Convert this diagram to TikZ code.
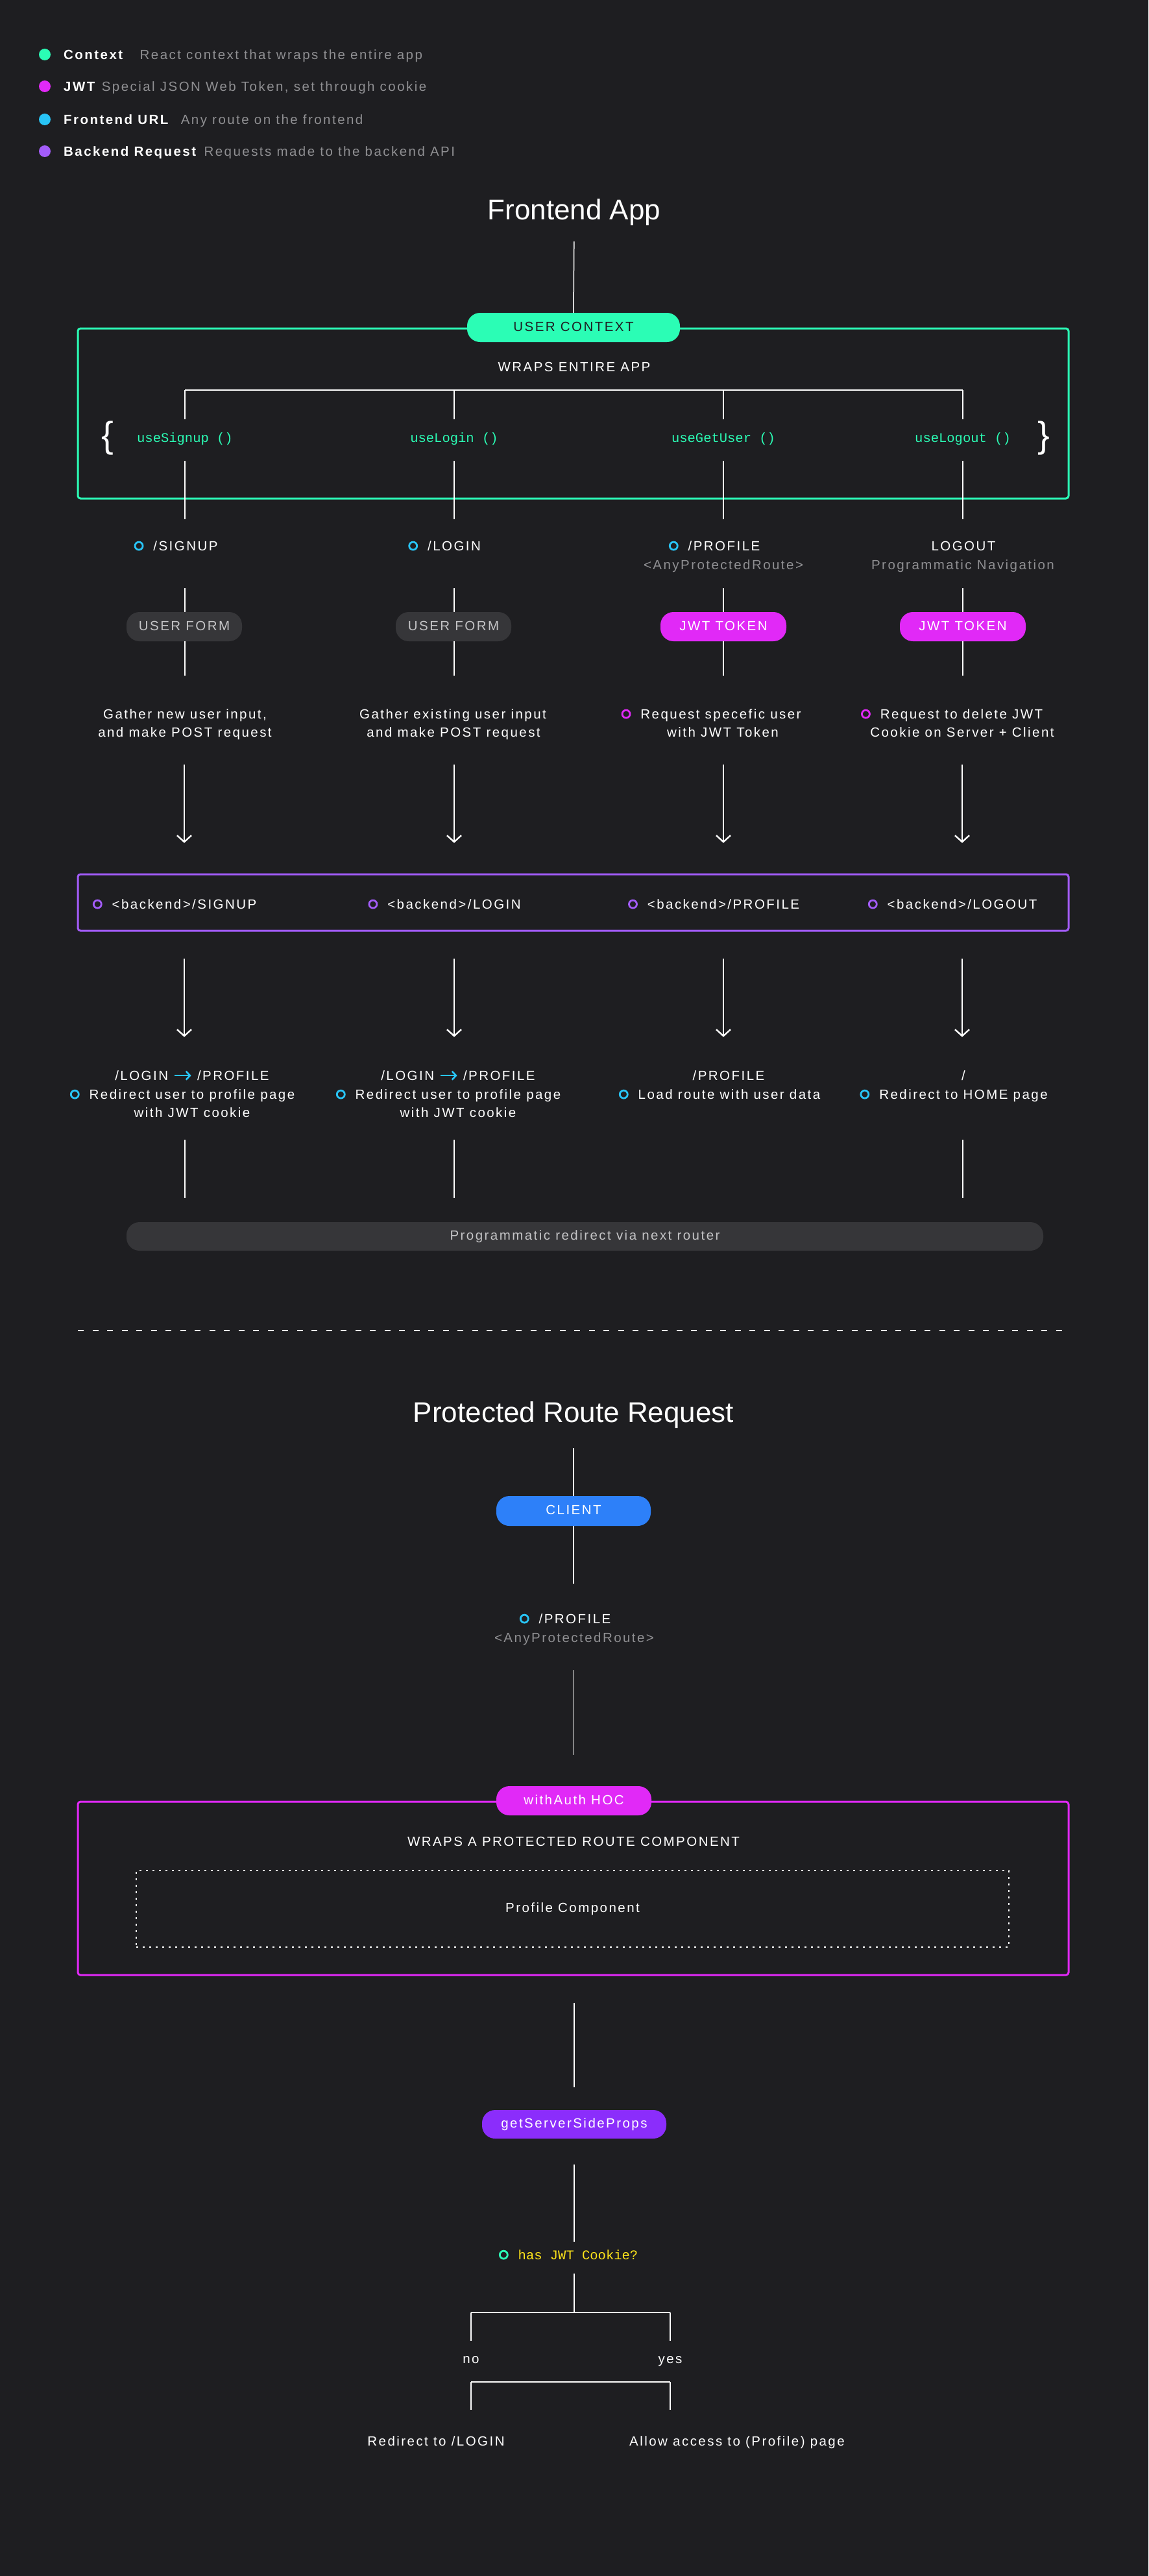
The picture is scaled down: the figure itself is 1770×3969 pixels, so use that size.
\documentclass[tikz,border=0pt]{standalone}
\usepackage{fontspec}
\setmainfont{Liberation Sans}
\newfontfamily\bodyfam{Liberation Sans}[LetterSpace=12]
\newfontfamily\headfam{Liberation Sans}
\newfontfamily\codefam{Liberation Mono}
\usetikzlibrary{positioning,arrows.meta}

\definecolor{bg}{HTML}{1E1E21}
\definecolor{ctxgreen}{HTML}{2BFDB5}
\definecolor{jwtpink}{HTML}{E129F7}
\definecolor{urlcyan}{HTML}{28C4F6}
\definecolor{apipurple}{HTML}{A35CF9}
\definecolor{ssrpurple}{HTML}{8B2DFB}
\definecolor{clientblue}{HTML}{2D80F9}
\definecolor{pillgrey}{HTML}{363639}
\definecolor{greytxt}{HTML}{8F8F92}
\definecolor{pilltxt}{HTML}{C4C4C6}
\definecolor{askyellow}{HTML}{FFE51A}

\newcommand\bodyfont{\bodyfam\fontsize{20.5pt}{28pt}\selectfont}
\newcommand\headfont{\headfam\fontsize{44pt}{52pt}\selectfont}
\newcommand\codefont{\codefam\fontsize{20.5pt}{28pt}\selectfont}
\newcommand\bracefont{\headfam\fontsize{56pt}{56pt}\selectfont}
\newcommand\ring[1]{\llap{\tikz[baseline=-7.4pt]\draw[#1,line width=2.8pt] (0,0) circle (6pt);\hspace{15pt}}}
\newcommand\goesto{\tikz[baseline=-7.4pt]\draw[urlcyan,line width=2.6pt,-{Straight Barb[length=6pt,width=13pt]}] (0,0) -- (26pt,0);}

\begin{document}
\begin{tikzpicture}[x=1pt, y=-1pt,
  lbl/.style={font=\bodyfont, text=white, inner sep=0pt, text height=15pt, text depth=4pt},
  dim/.style={lbl, text=greytxt},
  hook/.style={lbl, font=\codefont, text=ctxgreen},
  head/.style={font=\headfont, text=white, inner sep=0pt, text height=33pt, text depth=10pt},
  pill/.style={lbl, rounded corners=20pt, minimum height=45pt},
  frame/.style={draw=#1, line width=3pt, rounded corners=4pt, inner sep=0pt},
  dot/.style={circle, fill=#1, minimum size=18pt, inner sep=0pt},
  wire/.style={draw=white, line width=1.5pt},
  arr/.style={draw=white, line width=2.4pt, -{Straight Barb[length=10pt,width=22pt]}},
]
\fill[bg] (0,0) rectangle (1770,3969);
\useasboundingbox (0,0) rectangle (1770,3969);

% legend
\node[dot=ctxgreen] (lgdot1) at (69,84) {};
\node[dot=jwtpink] (lgdot2) at (69,133) {};
\node[dot=urlcyan] (lgdot3) at (69,184) {};
\node[dot=apipurple] (lgdot4) at (69,233) {};
\node[lbl, font=\bodyfont\bfseries, anchor=west] (lg1) at (98,86) {Context};
\node[lbl, font=\bodyfont\bfseries, anchor=west] (lg2) at (98,135) {JWT};
\node[lbl, font=\bodyfont\bfseries, anchor=west] (lg3) at (98,186) {Frontend URL};
\node[lbl, font=\bodyfont\bfseries, anchor=west] (lg4) at (98,235) {Backend Request};
\node[dim, right=26pt of lg1] (lg1d) {React context that wraps the entire app};
\node[dim, right=10pt of lg2] (lg2d) {Special JSON Web Token, set through cookie};
\node[dim, right=19pt of lg3] (lg3d) {Any route on the frontend};
\node[dim, right=12pt of lg4] (lg4d) {Requests made to the backend API};

% frontend app
\node[head] (app) at (885,327) {Frontend App};
\node[frame=ctxgreen, minimum width=1527pt, minimum height=262pt] (ctxbox) at (883.5,637) {};
\node[pill, fill=ctxgreen, text=bg, minimum width=328pt] (ctx) at (884,504.5) {USER CONTEXT};
\draw[wire, shorten <=23.5pt] (app.south) -- (ctx.north);
\node[lbl] (wrap1) at (885,567) {WRAPS ENTIRE APP};

\node[hook] (h1) at (285,676) {useSignup ()};
\node[hook] (h2) at (700,676) {useLogin ()};
\node[hook] (h3) at (1115,676) {useGetUser ()};
\node[hook] (h4) at (1484,676) {useLogout ()};
\node[text=white, inner sep=0pt, font=\bracefont] (lbrace) at (166,675) {\{};
\node[text=white, inner sep=0pt, font=\bracefont] (rbrace) at (1609,675) {\}};

\coordinate (hookbar) at (885,601);
\draw[wire] (hookbar -| h1) -- (hookbar -| h4);
\draw[wire, shorten >=20.5pt] (hookbar -| h1) -- (h1.north);
\draw[wire, shorten >=20.5pt] (hookbar -| h2) -- (h2.north);
\draw[wire, shorten >=20.5pt] (hookbar -| h3) -- (h3.north);
\draw[wire, shorten >=20.5pt] (hookbar -| h4) -- (h4.north);

\node[lbl] (r1) at (286,843) {\ring{urlcyan}/SIGNUP};
\node[lbl] (r2) at (700,843) {\ring{urlcyan}/LOGIN};
\node[lbl] (r3) at (1116,843) {\ring{urlcyan}/PROFILE};
\node[lbl] (r4) at (1485,843) {LOGOUT};
\node[dim] (r3s) at (1115,872) {<AnyProtectedRoute>};
\node[dim] (r4s) at (1484,872) {Programmatic Navigation};

\draw[wire, shorten <=24.5pt, shorten >=33.5pt] (h1.south) -- (h1.south |- r1.north);
\draw[wire, shorten <=24.5pt, shorten >=33.5pt] (h2.south) -- (h2.south |- r2.north);
\draw[wire, shorten <=24.5pt, shorten >=33.5pt] (h3.south) -- (h3.south |- r3.north);
\draw[wire, shorten <=24.5pt, shorten >=33.5pt] (h4.south) -- (h4.south |- r4.north);

\node[pill, fill=pillgrey, text=pilltxt, minimum width=178pt] (p1) at (284,965.5) {USER FORM};
\node[pill, fill=pillgrey, text=pilltxt, minimum width=178pt] (p2) at (699,965.5) {USER FORM};
\node[pill, fill=jwtpink, minimum width=194pt] (p3) at (1115,965.5) {JWT TOKEN};
\node[pill, fill=jwtpink, minimum width=194pt] (p4) at (1484,965.5) {JWT TOKEN};

\draw[wire, shorten <=53.5pt] (h1 |- r1.south) -- (h1 |- p1.north);
\draw[wire, shorten <=53.5pt] (h2 |- r2.south) -- (h2 |- p2.north);
\draw[wire, shorten <=53.5pt] (h3 |- r3.south) -- (h3 |- p3.north);
\draw[wire, shorten <=53.5pt] (h4 |- r4.south) -- (h4 |- p4.north);

\node[lbl] (d1a) at (285,1102) {Gather new user input,};
\node[lbl] (d1b) at (285,1130) {and make POST request};
\node[lbl] (d2a) at (698,1102) {Gather existing user input};
\node[lbl] (d2b) at (699,1130) {and make POST request};
\node[lbl] (d3a) at (1111,1102) {\ring{jwtpink}Request specefic user};
\node[lbl] (d3b) at (1114,1130) {with JWT Token};
\node[lbl] (d4a) at (1482,1102) {\ring{jwtpink}Request to delete JWT};
\node[lbl] (d4b) at (1483,1130) {Cookie on Server + Client};

\draw[wire, shorten >=51.5pt] (h1 |- p1.south) -- (h1 |- d1a.north);
\draw[wire, shorten >=51.5pt] (h2 |- p2.south) -- (h2 |- d2a.north);
\draw[wire, shorten >=51.5pt] (h3 |- p3.south) -- (h3 |- d3a.north);
\draw[wire, shorten >=51.5pt] (h4 |- p4.south) -- (h4 |- d4a.north);

% backend
\node[frame=apipurple, minimum width=1527pt, minimum height=87pt] (api) at (883.5,1390.5) {};
\node[lbl] (b1) at (284,1395) {\ring{apipurple}<backend>/SIGNUP};
\node[lbl] (b2) at (700,1395) {\ring{apipurple}<backend>/LOGIN};
\node[lbl] (b3) at (1115,1395) {\ring{apipurple}<backend>/PROFILE};
\node[lbl] (b4) at (1483,1395) {\ring{apipurple}<backend>/LOGOUT};

\draw[arr, shorten <=38.5pt, shorten >=86.5pt] (b1.north |- d1b.south) -- (b1.north);
\draw[arr, shorten <=38.5pt, shorten >=86.5pt] (b2.north |- d2b.south) -- (b2.north);
\draw[arr, shorten <=38.5pt, shorten >=86.5pt] (b3.north |- d3b.south) -- (b3.north);
\draw[arr, shorten <=38.5pt, shorten >=86.5pt] (b4.north |- d4b.south) -- (b4.north);

\node[lbl] (t1a) at (296,1659) {/LOGIN \goesto{} /PROFILE};
\node[lbl] (t1b) at (296,1688) {\ring{urlcyan}Redirect user to profile page};
\node[lbl] (t1c) at (296,1716) {with JWT cookie};
\node[lbl] (t2a) at (706,1659) {/LOGIN \goesto{} /PROFILE};
\node[lbl] (t2b) at (706,1688) {\ring{urlcyan}Redirect user to profile page};
\node[lbl] (t2c) at (706,1716) {with JWT cookie};
\node[lbl] (t3a) at (1123,1659) {/PROFILE};
\node[lbl] (t3b) at (1124,1688) {\ring{urlcyan}Load route with user data};
\node[lbl] (t4a) at (1485,1659) {/};
\node[lbl] (t4b) at (1485,1688) {\ring{urlcyan}Redirect to HOME page};

\draw[arr, shorten <=72.5pt, shorten >=51.5pt] (b1.south) -- (b1.south |- t1a.north);
\draw[arr, shorten <=72.5pt, shorten >=51.5pt] (b2.south) -- (b2.south |- t2a.north);
\draw[arr, shorten <=72.5pt, shorten >=51.5pt] (b3.south) -- (b3.south |- t3a.north);
\draw[arr, shorten <=72.5pt, shorten >=51.5pt] (b4.south) -- (b4.south |- t4a.north);

\node[pill, fill=pillgrey, text=pilltxt, minimum width=1413pt, minimum height=44pt] (bar) at (901.5,1905) {Programmatic redirect via next router};
\draw[wire, shorten <=30.5pt, shorten >=37pt] (h1 |- t1c.south) -- (h1 |- bar.north);
\draw[wire, shorten <=30.5pt, shorten >=37pt] (h2 |- t2c.south) -- (h2 |- bar.north);
\draw[wire, shorten <=58.5pt, shorten >=37pt] (h4 |- t4b.south) -- (h4 |- bar.north);

\draw[white, line width=2pt, dash pattern=on 9pt off 13.5pt] (120,2050) -- (1650,2050);

% protected route
\node[head] (app2) at (884,2180) {Protected Route Request};
\node[pill, fill=clientblue, minimum width=238pt, minimum height=46pt] (client) at (884,2328) {CLIENT};
\draw[wire, shorten <=29.5pt] (app2.south) -- (client.north);
\node[lbl] (pr) at (886,2496) {\ring{urlcyan}/PROFILE};
\node[dim] (prs) at (885,2525) {<AnyProtectedRoute>};
\draw[wire, shorten >=46.5pt] (client.south) -- (client.south |- pr.north);

\node[frame=jwtpink, minimum width=1527pt, minimum height=267pt] (hocbox) at (883.5,2909.5) {};
\node[pill, fill=jwtpink, minimum width=239pt] (hoc) at (884.5,2774.5) {withAuth HOC};
\draw[wire, shorten <=38.5pt, shorten >=48pt] (hoc.north |- prs.south) -- (hoc.north);
\node[lbl] (wrap2) at (884,2839) {WRAPS A PROTECTED ROUTE COMPONENT};
\node[lbl, draw=white, line width=2pt, dash pattern=on 3pt off 7pt, minimum width=1345pt, minimum height=118pt] (comp) at (882.5,2941) {Profile Component};

\node[pill, fill=ssrpurple, minimum width=284pt, minimum height=44pt] (gssp) at (885,3273) {getServerSideProps};
\draw[wire, shorten <=41pt, shorten >=35pt] (gssp.north |- hocbox.south) -- (gssp.north);
\node[lbl, font=\codefont, text=askyellow] (ask) at (891,3476) {\ring{ctxgreen}has JWT Cookie?};
\draw[wire, shorten <=40pt, shorten >=12.5pt] (gssp.south) -- (gssp.south |- ask.north);

\coordinate (askfork) at (885,3563);
\node[lbl] (no) at (726,3636) {no};
\node[lbl] (yes) at (1033,3636) {yes};
\draw[wire, shorten <=17.5pt] (askfork |- ask.south) -- (askfork);
\draw[wire] (askfork -| no) -- (askfork -| yes);
\draw[wire, shorten >=19.5pt] (askfork -| no) -- (no.north);
\draw[wire, shorten >=19.5pt] (askfork -| yes) -- (yes.north);

\coordinate (nofork) at (885,3670);
\node[lbl] (redir) at (672,3763) {Redirect to /LOGIN};
\node[lbl] (allow) at (1136,3763) {Allow access to (Profile) page};
\draw[wire] (nofork -| no) -- (nofork -| yes);
\draw[wire, shorten >=40.5pt] (nofork -| no) -- (no |- redir.north);
\draw[wire, shorten >=40.5pt] (nofork -| yes) -- (yes |- allow.north);
\end{tikzpicture}
\end{document}
